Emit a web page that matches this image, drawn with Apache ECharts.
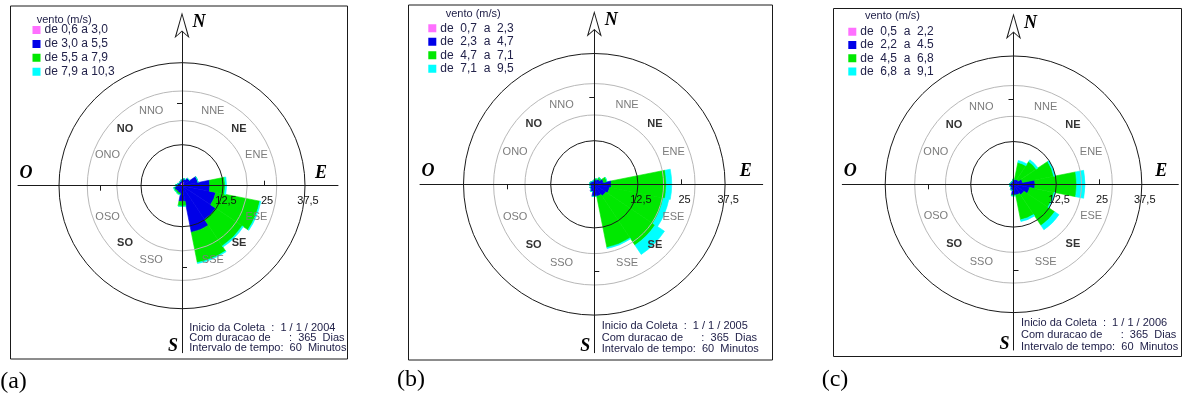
<!DOCTYPE html>
<html>
<head>
<meta charset="utf-8">
<script src="https://cdn.jsdelivr.net/npm/echarts@6/dist/echarts.min.js"></script>
<style>
  html, body { margin: 0; padding: 0; background: #fff; }
  #chart { width: 1182px; height: 400px; }
</style>
</head>
<body>
<div id="chart"></div>
<script>
// setores da rosa dos ventos (16 direcoes, O = oeste)
const directions = ['N', 'NNE', 'NE', 'ENE', 'E', 'ESE', 'SE', 'SSE', 'S', 'SSO', 'SO', 'OSO', 'O', 'ONO', 'NO', 'NNO']
const majorDirs = ['NE', 'SE', 'SO', 'NO']
const radiusTicks = [12.5, 25, 37.5]
const radiusMax = 37.5

// (a) 2004 - frequencia (%) por classe de vento
const classesA = ['de 0,6 a 3,0', 'de 3,0 a 5,5', 'de 5,5 a 7,9', 'de 7,9 a 10,3']
const pinkA = [1.0, 1.2, 0.8, 0.5, 0.4, 0.3, 0.3, 0.3, 0.3, 0.3, 0.3, 0.3, 0.3, 0.5, 0.6, 0.8]
const blueA = [0.8, 1.0, 2.0, 4.5, 8.1, 10.2, 12.1, 14.2, 4.5, 2.0, 1.8, 2.0, 1.5, 1.0, 0.6, 0.6]
const greenA = [0, 0, 0, 0, 4.7, 13.7, 9.7, 9.4, 1.5, 0.5, 0.5, 0.3, 0.2, 0, 0, 0]
const cyanA = [0, 0, 0, 0, 0.4, 0.3, 0.4, 0.3, 0, 0, 0, 0, 0, 0, 0, 0]
const infoA = ['Inicio da Coleta  :  1 / 1 / 2004', 'Com duracao de      :  365  Dias', 'Intervalo de tempo:  60  Minutos']

// (b) 2005
const classesB = ['de  0,7  a  2,3', 'de  2,3  a  4,7', 'de  4,7  a  7,1', 'de  7,1  a  9,5']
const pinkB = [0.2, 0.2, 0.2, 0.2, 0.2, 0.2, 0.2, 0.2, 0.2, 0.2, 0.2, 0.2, 0.2, 0.2, 0.2, 0.2]
const blueB = [1.0, 1.2, 1.6, 2.5, 4.7, 4.3, 3.8, 3.3, 3.3, 2.0, 1.4, 1.1, 1.2, 1.1, 0.9, 0.8]
const greenB = [0, 0.3, 0.6, 1.0, 15.8, 15.7, 17.0, 15.0, 0, 0, 0, 0, 0, 0, 0, 0]
const cyanB = [0, 0, 0, 0, 1.5, 1.6, 3.2, 0.3, 0, 0, 0, 0, 0, 0, 0, 0]
const infoB = ['Inicio da Coleta  :  1 / 1 / 2005', 'Com duracao de      :  365  Dias', 'Intervalo de tempo:  60  Minutos']

// (c) 2006
const classesC = ['de  0,5  a  2,2', 'de  2,2  a  4.5', 'de  4,5  a  6,8', 'de  6,8  a  9,1']
const pinkC = [0.2, 0.2, 0.2, 0.2, 0.3, 0.3, 0.2, 0.2, 0.3, 0.3, 0.4, 0.6, 1.0, 0.5, 0.3, 0.2]
const blueC = [1.1, 1.3, 1.5, 2.5, 6.0, 4.5, 3.5, 3.0, 2.8, 1.5, 0.8, 0.6, 0.2, 0.4, 0.6, 0.8]
const greenC = [0.2, 5.0, 6.3, 9.3, 12.2, 7.3, 10.8, 7.4, 0.3, 0, 0, 0, 0, 0, 0, 0]
const cyanC = [0, 0.6, 0.6, 0.4, 2.4, 0.3, 1.5, 0.5, 0, 0, 0, 0, 0, 0, 0, 0]
const infoC = ['Inicio da Coleta  :  1 / 1 / 2006', 'Com duracao de      :  365  Dias', 'Intervalo de tempo:  60  Minutos']

const tags = ['(a)', '(b)', '(c)']
const classColors = ['#ff70ff', '#0000e8', '#00e800', '#00ffff']

const panelData = [
  { names: classesA, values: [pinkA, blueA, greenA, cyanA], info: infoA },
  { names: classesB, values: [pinkB, blueB, greenB, cyanB], info: infoB },
  { names: classesC, values: [pinkC, blueC, greenC, cyanC], info: infoC },
]

// layout de cada painel (px); arms = [cima, direita, baixo, esquerda]
const layouts = [
  { cx: 182, cy: 185.7, R: 123, arms: [153.9, 156, 167, 164], box: [10.5, 6, 337, 353],
    legend: [32.5, 24, 1.9], title: [36.7, 20], info: [189.3, 328.3, 10], tag: [13.5, 382] },
  { cx: 594.3, cy: 184.3, R: 130.8, arms: [154.1, 168.4, 168.4, 174.3], box: [408.5, 5, 364, 355],
    legend: [428.3, 22.3, 1.5], title: [445.7, 14], info: [601.7, 326, 11.5], tag: [411, 380] },
  { cx: 1013.5, cy: 184.3, R: 128.3, arms: [151.5, 164.8, 165.7, 171.2], box: [833.5, 8.5, 348, 348],
    legend: [848.3, 25.7, 1.3], title: [865, 16], info: [1021, 323.3, 11.7], tag: [835, 380] },
]

const SANS = '"Liberation Sans", Arial, sans-serif'
const SERIF = '"Liberation Serif", "Times New Roman", serif'
const INK = '#1a1a1a'
// seta vazada do norte (contorno externo + furo interno)
const NORTH_ARROW = 'path://M7.5 0L15 26L7.5 19.5L0 26ZM7.5 3.2L1.9 23.4L7.5 18.3L13.1 23.4Z'

const rings = [
  { f: 12.5 / 37.5, color: INK },
  { f: 0.53, color: '#b8b8b8' },
  { f: 0.77, color: '#b8b8b8' },
]
const armAngles = [90, 0, 270, 180]

const polar = []
const angleAxis = []
const radiusAxis = []
const series = []
const legend = []
const dataPolarIdx = []

layouts.forEach((p, k) => {
  // polar dos dados (circulo externo = 37,5)
  const base = polar.length
  dataPolarIdx.push(base)
  polar.push({ center: [p.cx, p.cy], radius: p.R })
  angleAxis.push({
    polarIndex: base, type: 'category', data: directions, startAngle: 101.25, boundaryGap: true, z: 5,
    axisLine: { show: true, lineStyle: { color: INK, width: 1 } },
    axisTick: { show: false }, axisLabel: { show: false }, splitLine: { show: false },
  })
  radiusAxis.push({ polarIndex: base, type: 'value', min: 0, max: radiusMax, show: false })

  // circulos auxiliares
  rings.forEach((r) => {
    const idx = polar.length
    polar.push({ center: [p.cx, p.cy], radius: p.R * r.f })
    angleAxis.push({
      polarIndex: idx, type: 'value', min: 0, max: 360, startAngle: 90, z: 5,
      axisLine: { show: true, lineStyle: { color: r.color, width: 1 } },
      axisTick: { show: false }, axisLabel: { show: false }, splitLine: { show: false },
    })
    radiusAxis.push({ polarIndex: idx, type: 'value', min: 0, max: radiusMax * r.f, show: false })
  })

  // eixos em cruz
  armAngles.forEach((ang, i) => {
    const idx = polar.length
    const len = p.arms[i]
    polar.push({ center: [p.cx, p.cy], radius: len })
    angleAxis.push({ polarIndex: idx, type: 'value', min: 0, max: 360, startAngle: ang, show: false })
    radiusAxis.push({
      polarIndex: idx, type: 'value', min: 0, max: (radiusMax * len) / p.R, interval: 12.5, z: 6,
      axisLine: {
        show: true, lineStyle: { color: INK, width: 1 },
        symbol: i === 0 ? ['none', NORTH_ARROW] : ['none', 'none'],
        symbolSize: [15, 26], symbolOffset: [0, 6.5],
      },
      axisTick: { show: true, customValues: [25], length: 5, lineStyle: { color: INK } },
      axisLabel: i === 1
        ? { show: true, customValues: radiusTicks, margin: -21, padding: [0, 0, 0, 6], fontSize: 11,
            fontFamily: SANS, color: '#111', formatter: (v) => String(v).replace('.', ',') }
        : { show: false },
      splitLine: { show: false },
    })
  })

  // barras empilhadas
  const d = panelData[k]
  d.names.forEach((name, j) => {
    series.push({
      name, type: 'bar', coordinateSystem: 'polar', polarIndex: base, stack: 'rosa' + k,
      barWidth: '100%', barCategoryGap: '0%', data: d.values[j], z: 2,
      itemStyle: { color: classColors[j], borderColor: classColors[j], borderWidth: 0.6 },
    })
  })

  legend.push({
    data: d.names, orient: 'vertical', left: p.legend[0], top: p.legend[1], itemGap: p.legend[2],
    itemWidth: 6, itemHeight: 6, icon: 'rect', padding: 0, selectedMode: false,
    textStyle: { fontSize: 12, color: '#22224a', fontFamily: SANS },
  })
})

const chart = echarts.init(document.getElementById('chart'))
chart.setOption({
  animation: false,
  backgroundColor: '#fff',
  polar, angleAxis, radiusAxis, series, legend,
})

// textos e molduras
const graphic = []
const txt = (x, y, text, font, fill, align = 'left') => ({
  type: 'text', x, y, z: 100, silent: true,
  style: { text, font, fill, align, verticalAlign: 'middle' },
})

layouts.forEach((p, k) => {
  const [bx, by, bw, bh] = p.box
  graphic.push({ type: 'rect', z: 100, silent: true, shape: { x: bx, y: by, width: bw, height: bh },
    style: { fill: 'none', stroke: INK, lineWidth: 1 } })

  graphic.push(txt(p.title[0], p.title[1], 'vento (m/s)', '11px ' + SANS, '#22224a'))

  panelData[k].info.forEach((line, i) => {
    graphic.push(txt(p.info[0], p.info[1] + i * p.info[2], line, '11px ' + SANS, '#22224a'))
  })

  graphic.push(txt(p.tag[0], p.tag[1], tags[k], '24px ' + SERIF, '#000', 'center'))

  // pontos cardeais
  const big = 'italic bold 18px ' + SERIF
  const [up, right, down, left] = p.arms
  graphic.push(txt(p.cx + 17, p.cy - up - 9.5, 'N', big, '#000', 'center'))
  graphic.push(txt(p.cx + right - 17, p.cy - 12.6, 'E', big, '#000', 'center'))
  graphic.push(txt(p.cx - 9, p.cy + down - 6, 'S', big, '#000', 'center'))
  graphic.push(txt(p.cx - left + 8, p.cy - 12.6, 'O', big, '#000', 'center'))

  // rotulos de direcao entre os circulos cinza
  directions.forEach((dir, i) => {
    if (['N', 'E', 'S', 'O'].includes(dir)) return
    const pt = chart.convertToPixel({ polarIndex: dataPolarIdx[k] }, [radiusMax * 0.655, i])
    const major = majorDirs.includes(dir)
    graphic.push(txt(pt[0], pt[1], dir, (major ? 'bold ' : '') + '11px ' + SANS,
      major ? '#333333' : '#7c7c7c', 'center'))
  })
})

chart.setOption({ graphic })
</script>
</body>
</html>
